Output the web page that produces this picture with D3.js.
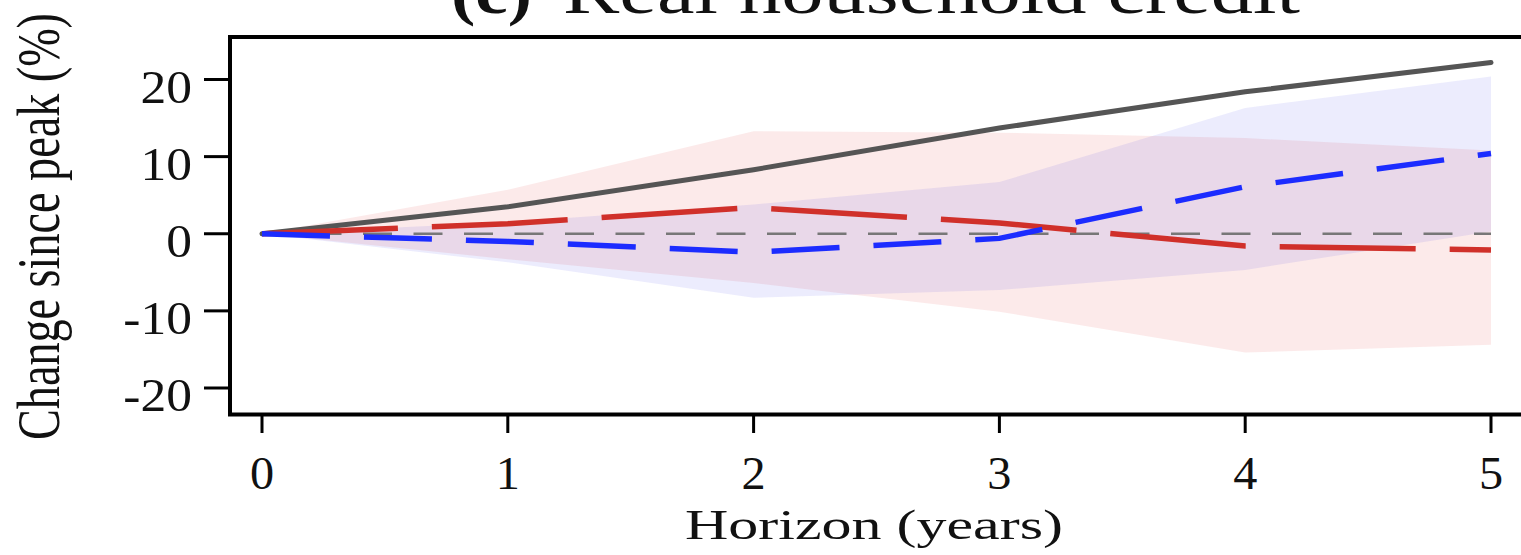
<!DOCTYPE html>
<html><head><meta charset="utf-8">
<script src="https://cdn.jsdelivr.net/npm/d3@7"></script>
<style>body{margin:0;background:#fff;} svg{display:block;}</style>
</head><body><svg id="chart" width="1521" height="555"></svg>
<script>
const horizons = [0, 1, 2, 3, 4, 5];
const grayMean = [0, 3.5, 8.3, 13.7, 18.4, 22.2];
const redMean  = [0, 1.3, 3.4, 1.4, -1.6, -2.1];
const redLow   = [0, -3.3, -6.4, -10.1, -15.4, -14.4];
const redHigh  = [0, 5.7, 13.3, 13.1, 12.4, 10.8];
const blueMean = [0, -1.0, -2.4, -0.6, 6.1, 10.4];
const blueLow  = [0, -3.7, -8.3, -7.3, -4.7, 0.3];
const blueHigh = [0, 1.5, 3.8, 6.7, 16.3, 20.4];
const yTicks = [-20, -10, 0, 10, 20];
const xTicks = [0, 1, 2, 3, 4, 5];
const titleTag = "(c)";
const titleText = "Real household credit";
const xTitle = "Horizon (years)";
const yTitle = "Change since peak (%)";

const svg = d3.select("#chart");
const x = d3.scaleLinear().domain([0, 5]).range([262, 1491]);
const y = d3.scaleLinear().domain([-20, 20]).range([388, 79.5]);
const font = "'Liberation Serif','DejaVu Serif',serif";

function band(lo, hi) {
  return d3.area().x((d, i) => x(horizons[i])).y0((d, i) => y(lo[i])).y1((d, i) => y(hi[i]))(horizons);
}
function line(vals) {
  return d3.line().x((d, i) => x(horizons[i])).y((d, i) => y(vals[i]))(horizons);
}

// bands
svg.append("path").attr("d", band(redLow, redHigh)).attr("fill", "rgb(225,60,60)").attr("fill-opacity", 0.11);
svg.append("path").attr("d", band(blueLow, blueHigh)).attr("fill", "rgb(40,40,235)").attr("fill-opacity", 0.09);

// zero line
svg.append("line").attr("x1", x(0)).attr("x2", x(5)).attr("y1", y(0)).attr("y2", y(0))
  .attr("stroke", "#777").attr("stroke-width", 2.5).attr("stroke-dasharray", "29,21.5");

// lines
svg.append("path").attr("d", line(grayMean)).attr("fill", "none").attr("stroke", "#555")
  .attr("stroke-width", 5).attr("stroke-linejoin", "round").attr("stroke-linecap", "round");
svg.append("path").attr("d", line(redMean)).attr("fill", "none").attr("stroke", "#d0302a")
  .attr("stroke-width", 5.5).attr("stroke-dasharray", "136,34");
svg.append("path").attr("d", line(blueMean)).attr("fill", "none").attr("stroke", "#1c2cff")
  .attr("stroke-width", 5.5).attr("stroke-dasharray", "68,34");

// frame
svg.append("rect").attr("x", 230).attr("y", 37).attr("width", 1400).attr("height", 377.5)
  .attr("fill", "none").attr("stroke", "#000").attr("stroke-width", 4);

// y ticks
yTicks.forEach(t => {
  svg.append("line").attr("x1", 204).attr("x2", 230).attr("y1", y(t)).attr("y2", y(t))
    .attr("stroke", "#000").attr("stroke-width", 3);
  svg.append("text").attr("transform", `translate(192,${y(t) + 23}) scale(1.12,1)`)
    .attr("text-anchor", "end").attr("font-family", font).attr("font-size", 46)
    .attr("fill", "#111").text(t);
});

// x ticks
xTicks.forEach(t => {
  svg.append("line").attr("x1", x(t)).attr("x2", x(t)).attr("y1", 416).attr("y2", 433)
    .attr("stroke", "#000").attr("stroke-width", 3);
  svg.append("text").attr("transform", `translate(${x(t)},489) scale(1.05,1)`)
    .attr("text-anchor", "middle").attr("font-family", font).attr("font-size", 46)
    .attr("fill", "#111").text(t);
});

// axis titles
svg.append("text").attr("x", 874).attr("y", 539).attr("text-anchor", "middle")
  .attr("font-family", font).attr("font-size", 43).attr("fill", "#111")
  .attr("textLength", 378).attr("lengthAdjust", "spacingAndGlyphs").text(xTitle);

svg.append("text").attr("transform", "translate(59,226.5) scale(1.35,1) rotate(-90)")
  .attr("text-anchor", "middle").attr("font-family", font).attr("font-size", 46).attr("fill", "#111")
  .attr("textLength", 427).attr("lengthAdjust", "spacingAndGlyphs").text(yTitle);

// title (cropped at top, as in the reference)
svg.append("text").attr("x", 451).attr("y", 13).attr("font-family", font).attr("font-weight", "bold")
  .attr("font-size", 64).attr("fill", "#111").attr("textLength", 81).attr("lengthAdjust", "spacingAndGlyphs")
  .text(titleTag);
svg.append("text").attr("x", 563).attr("y", 13).attr("font-family", font)
  .attr("font-size", 64).attr("fill", "#111").attr("textLength", 737).attr("lengthAdjust", "spacingAndGlyphs")
  .text(titleText);
</script></body></html>
